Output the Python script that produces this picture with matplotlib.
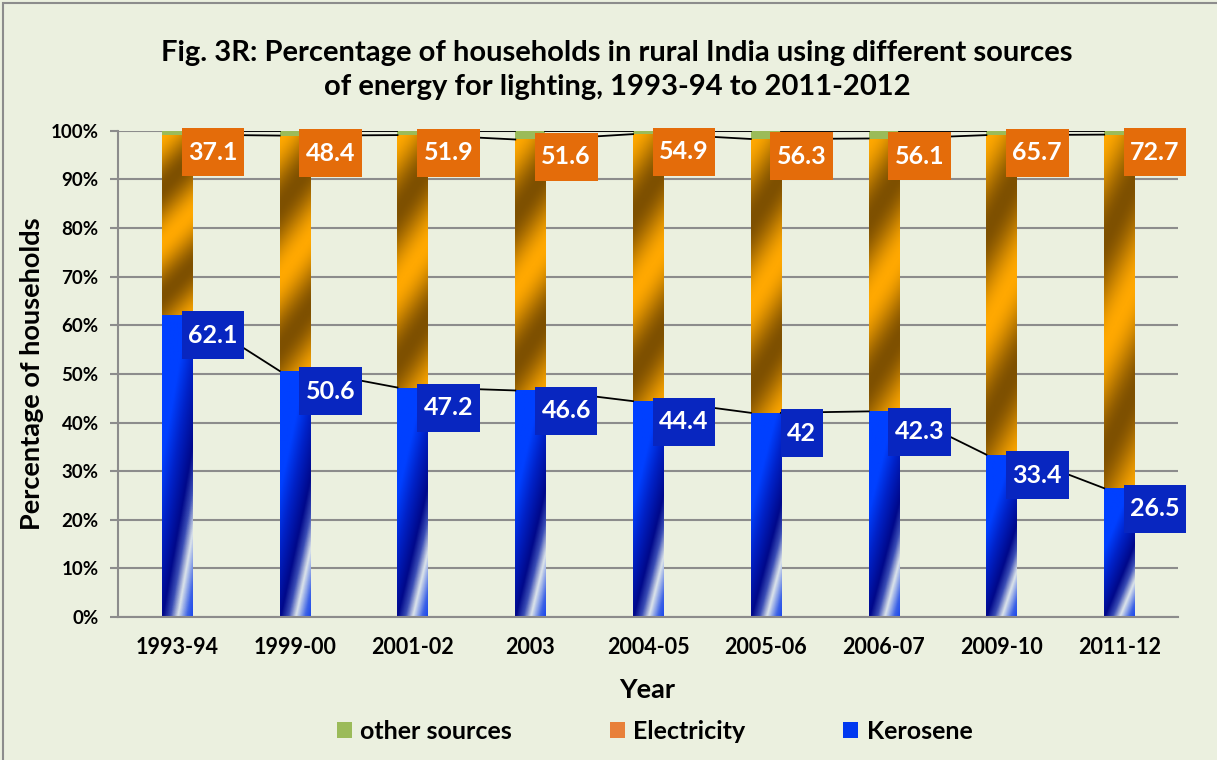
import numpy as np
import matplotlib.pyplot as plt
from matplotlib.colors import LinearSegmentedColormap
from matplotlib.patches import Patch, Rectangle
from matplotlib.path import Path
from matplotlib.ticker import PercentFormatter

years = ['1993-94', '1999-00', '2001-02', '2003', '2004-05', '2005-06', '2006-07', '2009-10', '2011-12']
kerosene = [62.1, 50.6, 47.2, 46.6, 44.4, 42, 42.3, 33.4, 26.5]
electricity = [37.1, 48.4, 51.9, 51.6, 54.9, 56.3, 56.1, 65.7, 72.7]
other = [0.8, 1.0, 0.9, 1.8, 0.7, 1.7, 1.6, 0.9, 0.8]

plt.rcParams['font.family'] = ['Lato', 'DejaVu Sans']
plt.rcParams['font.weight'] = 'bold'

bg = '#EBF0DF'
grid_col = '#8C8C8C'


def label_box(x0, y0, width, height, mutation_size):
    # box with more padding top/bottom than left/right
    px = 0.26 * mutation_size
    py = 0.5 * mutation_size
    x0, y0 = x0 - px, y0 - py
    x1, y1 = x0 + width + 2 * px, y0 + height + 2 * py
    return Path([(x0, y0), (x1, y0), (x1, y1), (x0, y1), (x0, y0)], closed=True)


fig = plt.figure(figsize=(12.17, 7.6), dpi=100, facecolor=bg)
ax = fig.add_axes([0.097, 0.188, 0.871, 0.640])
ax.set_facecolor(bg)

x = np.arange(len(years))
w = 0.255
ker = np.array(kerosene, dtype=float)
ele = np.array(electricity, dtype=float)
oth = np.array(other, dtype=float)

ker_bars = ax.bar(x, ker, w, color='#0040FF', zorder=2)
ele_bars = ax.bar(x, ele, w, bottom=ker, color='#FFA800', zorder=2)
oth_bars = ax.bar(x, oth, w, bottom=ker + ele, color='#9BBB59', zorder=2)

# gradient fills, clipped to each bar
ker_cmap = LinearSegmentedColormap.from_list('ker', [
    (0.0, '#1040F0'), (0.08, '#3D63E6'), (0.19, '#DDE5EA'), (0.28, '#3A4DB5'),
    (0.37, '#00088A'), (0.55, '#0022C8'), (0.7, '#0040FF'), (1.0, '#0040FF')])
ele_cmap = LinearSegmentedColormap.from_list('ele', ['#FFA800', '#7E5000'])

ny, nx = 300, 40
yy, xx = np.mgrid[0:1:ny * 1j, 0:1:nx * 1j]

for b in ker_bars:
    s = yy - 0.57 * xx
    c = (s + 0.6) / 1.6
    x0, y0, bw, bh = b.get_x(), b.get_y(), b.get_width(), b.get_height()
    im = ax.imshow(c, extent=(x0, x0 + bw, y0, y0 + bh), origin='lower', aspect='auto',
                   cmap=ker_cmap, vmin=0, vmax=1, zorder=2.1, interpolation='bilinear')
    im.set_clip_path(b)

for b in ele_bars:
    t = ((1 - yy) + 0.17 * xx) / 0.6
    v = 0.5 - 0.5 * np.cos(2 * np.pi * t)
    x0, y0, bw, bh = b.get_x(), b.get_y(), b.get_width(), b.get_height()
    im = ax.imshow(v, extent=(x0, x0 + bw, y0, y0 + bh), origin='lower', aspect='auto',
                   cmap=ele_cmap, vmin=0, vmax=1, zorder=2.1, interpolation='bilinear')
    im.set_clip_path(b)

# series lines between bars
for lev in [ker, ker + ele, ker + ele + oth]:
    for i in range(len(x) - 1):
        ax.plot([x[i] + w / 2, x[i + 1] - w / 2], [lev[i], lev[i + 1]],
                color='black', lw=1.3, zorder=3)

# data labels
for i in range(len(x)):
    ax.text(x[i] + 0.305, ker[i] + ele[i] - 3.6, f'{electricity[i]:g}', ha='center', va='center',
            color='white', fontsize=18, fontweight='bold', zorder=6,
            bbox=dict(boxstyle=label_box, fc='#E46C0A', ec='none'))
    ax.text(x[i] + 0.305, ker[i] - 4.2, f'{kerosene[i]:g}', ha='center', va='center',
            color='white', fontsize=18, fontweight='bold', zorder=6,
            bbox=dict(boxstyle=label_box, fc='#0826C0', ec='none'))

ax.set_xlim(-0.5, len(x) - 0.5)
ax.set_ylim(0, 100)
ax.set_xticks(x)
ax.set_xticklabels(years)
ax.set_yticks(np.arange(0, 101, 10))
ax.yaxis.set_major_formatter(PercentFormatter(decimals=0))
ax.tick_params(axis='x', length=0, pad=14, labelsize=15.5)
ax.tick_params(axis='y', length=6, width=1.5, color=grid_col, pad=8, labelsize=13.5)
ax.yaxis.grid(True, color=grid_col, lw=1.5)
ax.set_axisbelow(True)
for side in ['top', 'right']:
    ax.spines[side].set_visible(False)
for side in ['left', 'bottom']:
    ax.spines[side].set_color(grid_col)
    ax.spines[side].set_linewidth(1.5)

fig.text(0.507, 0.908, 'Fig. 3R: Percentage of households in rural India using different sources\n'
         'of energy for lighting, 1993-94 to 2011-2012',
         ha='center', va='center', fontsize=21, fontweight='bold', linespacing=1.35)
fig.text(0.026, 0.508, 'Percentage of households', rotation=90, ha='center', va='center',
         fontsize=19.5, fontweight='bold')
fig.text(0.532, 0.092, 'Year', ha='center', va='center', fontsize=19.5, fontweight='bold')

handles = [Patch(fc='#9BBB59'), Patch(fc='#E8803A'), Patch(fc='#0038F0')]
fig.legend(handles, ['other sources', 'Electricity', 'Kerosene'], loc='center',
           bbox_to_anchor=(0.538, 0.038), ncol=3, frameon=False, fontsize=18,
           handlelength=0.6, handleheight=0.6, handletextpad=0.35, columnspacing=3.9)

fig.patches.append(Rectangle((0.0025, -0.05), 1.2, 1.046, transform=fig.transFigure,
                             fill=False, ec='#8C8C8C', lw=1.5))

fig.savefig('out.png', dpi=100, facecolor=bg)
